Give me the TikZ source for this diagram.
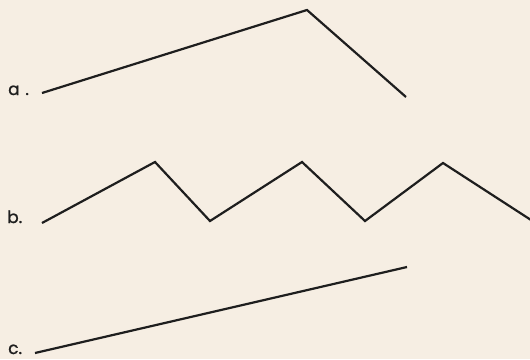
\documentclass[tikz,border=0pt]{standalone}
\usepackage{fontspec}
\setmainfont{Poppins}
\newfontfamily\labfont[FakeBold=1.2]{Poppins}
\definecolor{paper}{HTML}{F6EEE3}
\definecolor{ink}{HTML}{1E1E1E}
\tikzset{
  zig/.style={draw=ink, line width=2.2pt, line join=miter},
  lab/.style={font=\labfont\fontsize{17}{17}\selectfont, text=ink, inner sep=0pt, anchor=base west}
}
\begin{document}
\begin{tikzpicture}[x=1pt,y=-1pt]
\fill[paper] (0,0) rectangle (530,359);
\useasboundingbox (0,0) rectangle (530,359);
% a
\node[lab] (la) at (8,95) {a\,\,.};
\coordinate (a1) at (42,93);
\coordinate (a2) at (307,10);
\coordinate (a3) at (406,97);
\draw[zig] (a1) -- (a2) -- (a3);
% b
\node[lab] (lb) at (7,223) {b.};
\coordinate (b1) at (42,223);
\coordinate (b2) at (155,162);
\coordinate (b3) at (210,221);
\coordinate (b4) at (302,162);
\coordinate (b5) at (365,221);
\coordinate (b6) at (443,163);
\coordinate (b7) at (531,220);
\draw[zig] (b1) -- (b2) -- (b3) -- (b4) -- (b5) -- (b6) -- (b7);
% c
\node[lab] (lc) at (8,354) {c.};
\coordinate (c1) at (35,353);
\coordinate (c2) at (407,267);
\draw[zig] (c1) -- (c2);
\end{tikzpicture}
\end{document}
